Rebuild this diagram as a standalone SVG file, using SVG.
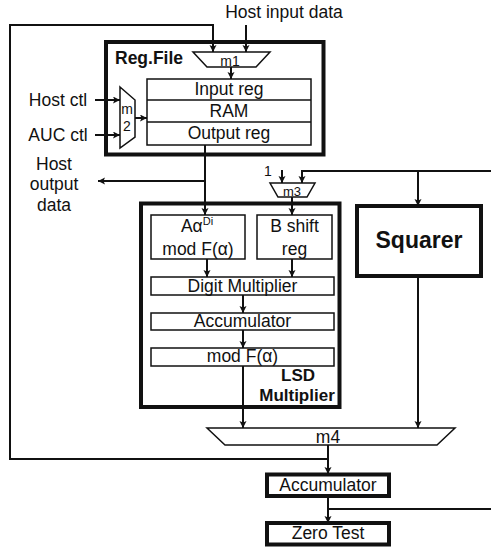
<svg xmlns="http://www.w3.org/2000/svg" width="491" height="548" viewBox="0 0 491 548">
<defs>
<marker id="ah" markerUnits="userSpaceOnUse" markerWidth="8" markerHeight="8" refX="7" refY="3.5" orient="auto">
<path d="M0,0 L7,3.5 L0,7 L1.5,3.5 z" fill="#111"/>
</marker>
</defs>
<style>
text{font-family:"Liberation Sans",Arial,Helvetica,sans-serif;fill:#111;font-size:17.5px}
.c{text-anchor:middle}
.b{font-weight:bold}
.thick{fill:#fff;stroke:#111;stroke-width:4}
.thin{fill:#fff;stroke:#111;stroke-width:1.5}
.mux{fill:#fff;stroke:#111;stroke-width:1.5}
.w{fill:none;stroke:#111;stroke-width:2;marker-end:url(#ah)}
.wn{fill:none;stroke:#111;stroke-width:2}
</style>
<rect width="491" height="548" fill="#fff"/>

<g id="regfile">
<rect class="thick" x="106" y="42" width="217.5" height="112.5"/>
<text class="b" x="115" y="64">Reg.File</text>
<rect class="thin" x="147" y="79" width="164" height="66"/>
<line x1="147" y1="100" x2="311" y2="100" stroke="#111" stroke-width="1.5"/>
<line x1="147" y1="122" x2="311" y2="122" stroke="#111" stroke-width="1.5"/>
<text class="c" x="229" y="95">Input reg</text>
<text class="c" x="229" y="117">RAM</text>
<text class="c" x="229" y="139">Output reg</text>
</g>

<g id="m1">
<polygon class="mux" points="193,52 270,52 256,67 207,67"/>
<text class="c" x="230" y="66" style="font-size:14px">m1</text>
</g>

<g id="m2">
<polygon class="mux" points="120,87 135,100 135,137 120,148"/>
<text class="c" x="127" y="114" style="font-size:14px">m</text>
<text class="c" x="127" y="131" style="font-size:14px">2</text>
</g>

<g id="m3">
<polygon class="mux" points="270,183 315,183 307,197 278,197"/>
<text class="c" x="292" y="196" style="font-size:13px">m3</text>
</g>

<g id="lsd">
<rect class="thick" x="141" y="203.5" width="198.5" height="203.5"/>
<rect class="thin" x="151" y="215" width="94" height="44"/>
<text class="c" x="197" y="232">Aα<tspan dy="-7" style="font-size:11px">Di</tspan></text>
<text class="c" x="198" y="255">mod F(α)</text>
<rect class="thin" x="257" y="215" width="75" height="44"/>
<text class="c" x="294.5" y="232">B shift</text>
<text class="c" x="294.5" y="255">reg</text>
<rect class="thin" x="151" y="277" width="183" height="18"/>
<text class="c" x="242.5" y="292">Digit Multiplier</text>
<rect class="thin" x="151" y="313" width="183" height="17"/>
<text class="c" x="242.5" y="327">Accumulator</text>
<rect class="thin" x="151" y="348" width="183" height="18"/>
<text class="c" x="242.5" y="362">mod F(α)</text>
<text class="c b" x="298" y="381" style="font-size:17px">LSD</text>
<text class="c b" x="297" y="401" style="font-size:17px">Multiplier</text>
</g>

<g id="squarer">
<rect class="thick" x="357" y="206" width="124" height="70"/>
<text class="c b" x="419" y="248" style="font-size:23px">Squarer</text>
</g>

<g id="m4">
<polygon class="mux" points="207,428 455,428 437,445 225,445"/>
<text class="c" x="328" y="443">m4</text>
</g>

<g id="accumulator">
<rect class="thick" x="267" y="474.5" width="122" height="21.5"/>
<text class="c" x="328" y="491">Accumulator</text>
</g>

<g id="zerotest">
<rect class="thick" x="267" y="523" width="122" height="21.5"/>
<text class="c" x="328" y="539">Zero Test</text>
</g>

<g id="labels">
<text class="c" x="284" y="18">Host input data</text>
<text class="c" x="58" y="106">Host ctl</text>
<text class="c" x="58" y="141">AUC ctl</text>
<text class="c" x="54" y="170">Host</text>
<text class="c" x="54" y="190">output</text>
<text class="c" x="54" y="211">data</text>
<text class="c" x="268" y="176" style="font-size:14px">1</text>
</g>

<g id="connectors">
<path class="w" d="M328,459 H10 V25 H213 V52"/>
<path class="w" d="M246,25 V52"/>
<path class="w" d="M231,67 V79"/>
<path class="w" d="M95,100 H120"/>
<path class="w" d="M95,135 H120"/>
<path class="w" d="M135,118 H147"/>
<path class="w" d="M205,145 V215"/>
<path class="w" d="M205,181 H98"/>
<path class="w" d="M282,170 V183"/>
<path class="w" d="M491,171 H302 V183"/>
<path class="w" d="M292,197 V215"/>
<path class="w" d="M418,171 V206"/>
<path class="w" d="M207,259 V277"/>
<path class="w" d="M292,259 V277"/>
<path class="w" d="M243,295 V313"/>
<path class="w" d="M243,330 V348"/>
<path class="w" d="M243,366 V428"/>
<path class="w" d="M418,276 V428"/>
<path class="w" d="M328,445 V474"/>
<path class="w" d="M328,496 V523"/>
<path class="wn" d="M328,509 H491"/>
</g>
</svg>
